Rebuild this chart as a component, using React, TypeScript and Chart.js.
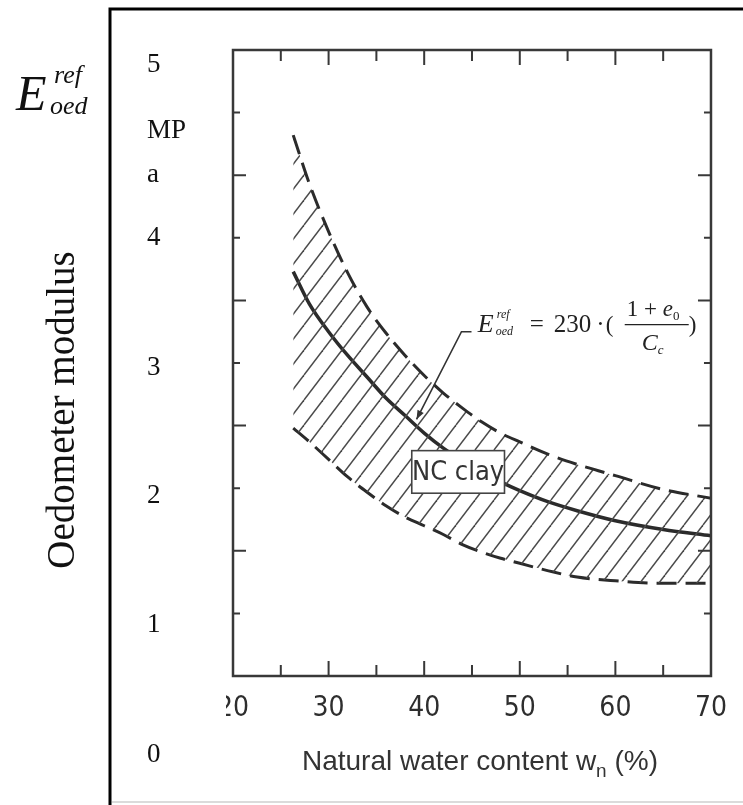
import React, { useEffect, useRef } from 'react';
import { Chart, registerables } from 'chart.js';

Chart.register(...registerables);

// ---- data ----
const waterContent = [26.3, 28, 30, 32, 34, 36, 38, 40, 42, 44, 46, 48, 50, 53, 56, 60, 65, 70];
const upperBound = [4.32, 3.93, 3.55, 3.22, 2.95, 2.74, 2.56, 2.40, 2.26, 2.14, 2.03, 1.94, 1.87, 1.77, 1.69, 1.60, 1.49, 1.42];
const meanCurve = [3.23, 2.97, 2.75, 2.56, 2.39, 2.22, 2.08, 1.94, 1.82, 1.72, 1.63, 1.55, 1.48, 1.39, 1.32, 1.24, 1.17, 1.12];
const lowerBound = [1.98, 1.87, 1.73, 1.59, 1.47, 1.36, 1.27, 1.20, 1.13, 1.05, 0.99, 0.94, 0.90, 0.84, 0.79, 0.76, 0.74, 0.74];

const xTickLabels = [20, 30, 40, 50, 60, 70];
const xMinorTicks = [25, 35, 45, 55, 65];
const yMajorTicks = [1, 2, 3, 4];
const yMinorTicks = [0.5, 1.5, 2.5, 3.5, 4.5];

const overlayLabels = ['5', 'MP', 'a', '4', '3', '2', '1', '0'];
const yAxisTitle = 'Oedometer modulus';
const xAxisTitle = ['Natural water content w', 'n', ' (%)'];
const regionLabel = 'NC clay';

// annotation anchors in data units
const ncBox = { x0: 38.7, x1: 48.4, y0: 1.80, y1: 1.46 };
const leader = { tipX: 39.2, tipY: 2.05, elbowX: 43.9, elbowY: 2.75, endX: 44.95, endY: 2.75 };
const formulaAnchor = { x: 45.6, y: 2.75 };

// ---- layout ----
const W = 743;
const H = 805;
const PLOT = { left: 233, right: 712, top: 50, bottom: 676 };
const overlayBaselines = [72, 138, 182, 245, 375, 503, 632, 762];
const SERIF = '"Liberation Serif", "Times New Roman", serif';
const SANS = '"Liberation Sans", Arial, sans-serif';
const NARROW = '"Liberation Sans Narrow", "DejaVu Sans Condensed", "Liberation Sans", Arial, sans-serif';
const INK = '#2b2b2b';

function makeHatch(): CanvasPattern | string {
  const tw = 19, th = 25;
  const pc = document.createElement('canvas');
  pc.width = tw;
  pc.height = th;
  const p = pc.getContext('2d');
  if (!p) return '#999';
  p.strokeStyle = '#4a4a4a';
  p.lineWidth = 1.5;
  for (const k of [-1, 0, 1]) {
    p.beginPath();
    p.moveTo(k * tw, th);
    p.lineTo(k * tw + tw, 0);
    p.stroke();
  }
  const c = document.createElement('canvas').getContext('2d');
  return (c && c.createPattern(pc, 'repeat')) || '#999';
}

function text(ctx: CanvasRenderingContext2D, s: string, x: number, y: number, font: string) {
  ctx.font = font;
  ctx.fillText(s, x, y);
  return x + ctx.measureText(s).width;
}

const decorPlugin = {
  id: 'decor',
  afterDatasetsDraw(chart: any) {
    const { ctx, chartArea: a, scales } = chart;
    const xs = scales.x;
    const ys = scales.y;
    const px = (v: number) => xs.getPixelForValue(v);
    const py = (v: number) => ys.getPixelForValue(v);
    ctx.save();

    // NC clay box
    const bx0 = px(ncBox.x0), bx1 = px(ncBox.x1), by0 = py(ncBox.y0), by1 = py(ncBox.y1);
    ctx.fillStyle = '#ffffff';
    ctx.fillRect(bx0, by0, bx1 - bx0, by1 - by0);
    ctx.strokeStyle = '#444';
    ctx.lineWidth = 1.6;
    ctx.strokeRect(bx0, by0, bx1 - bx0, by1 - by0);
    ctx.fillStyle = '#333';
    ctx.font = '27px ' + NARROW;
    ctx.textAlign = 'center';
    ctx.textBaseline = 'middle';
    ctx.fillText(regionLabel, (bx0 + bx1) / 2, (by0 + by1) / 2 + 1);

    // plot frame
    ctx.strokeStyle = '#383838';
    ctx.lineWidth = 2.5;
    ctx.strokeRect(a.left, a.top, a.right - a.left, a.bottom - a.top);

    // inner ticks
    ctx.lineWidth = 2;
    ctx.beginPath();
    for (const v of xTickLabels) {
      if (v <= xs.min || v >= xs.max) continue;
      const p = px(v);
      ctx.moveTo(p, a.bottom); ctx.lineTo(p, a.bottom - 15);
      ctx.moveTo(p, a.top); ctx.lineTo(p, a.top + 15);
    }
    for (const v of xMinorTicks) {
      const p = px(v);
      ctx.moveTo(p, a.bottom); ctx.lineTo(p, a.bottom - 11);
      ctx.moveTo(p, a.top); ctx.lineTo(p, a.top + 11);
    }
    for (const v of yMajorTicks) {
      const p = py(v);
      ctx.moveTo(a.left, p); ctx.lineTo(a.left + 13, p);
      ctx.moveTo(a.right, p); ctx.lineTo(a.right - 13, p);
    }
    for (const v of yMinorTicks) {
      const p = py(v);
      ctx.moveTo(a.left, p); ctx.lineTo(a.left + 7, p);
      ctx.moveTo(a.right, p); ctx.lineTo(a.right - 7, p);
    }
    ctx.stroke();

    // leader line with arrow
    const tx = px(leader.tipX), ty = py(leader.tipY);
    const ex = px(leader.elbowX), ey = py(leader.elbowY);
    const nx = px(leader.endX), ny = py(leader.endY);
    ctx.strokeStyle = '#333';
    ctx.lineWidth = 1.6;
    ctx.beginPath();
    ctx.moveTo(nx, ny);
    ctx.lineTo(ex, ey);
    ctx.lineTo(tx, ty);
    ctx.stroke();
    const ang = Math.atan2(ty - ey, tx - ex);
    ctx.fillStyle = '#333';
    ctx.beginPath();
    ctx.moveTo(tx, ty);
    ctx.lineTo(tx - 9 * Math.cos(ang) + 3.5 * Math.sin(ang), ty - 9 * Math.sin(ang) - 3.5 * Math.cos(ang));
    ctx.lineTo(tx - 9 * Math.cos(ang) - 3.5 * Math.sin(ang), ty - 9 * Math.sin(ang) + 3.5 * Math.cos(ang));
    ctx.closePath();
    ctx.fill();

    // formula
    const ax = px(formulaAnchor.x), ay = py(formulaAnchor.y);
    ctx.fillStyle = '#222';
    ctx.textAlign = 'left';
    ctx.textBaseline = 'alphabetic';
    text(ctx, 'E', ax, ay, 'italic 26px ' + SERIF);
    text(ctx, 'ref', ax + 19, ay - 14, 'italic 12px ' + SERIF);
    text(ctx, 'oed', ax + 18, ay + 3, 'italic 12px ' + SERIF);
    text(ctx, '=', ax + 52, ay, '25px ' + SERIF);
    let cx = text(ctx, '230', ax + 76, ay, '25px ' + SERIF);
    text(ctx, '\u00b7', cx + 5, ay, '25px ' + SERIF);
    text(ctx, '(', ax + 128, ay, '23px ' + SERIF);
    let nxp = text(ctx, '1 + ', ax + 149, ay - 16, '23px ' + SERIF);
    nxp = text(ctx, 'e', nxp, ay - 16, 'italic 23px ' + SERIF);
    text(ctx, '0', nxp, ay - 12, '13px ' + SERIF);
    ctx.strokeStyle = '#222';
    ctx.lineWidth = 1.2;
    ctx.beginPath();
    ctx.moveTo(ax + 147, ay - 7);
    ctx.lineTo(ax + 211, ay - 7);
    ctx.stroke();
    const cxp = text(ctx, 'C', ax + 164, ay + 18, 'italic 24px ' + SERIF);
    text(ctx, 'c', cxp, ay + 22, 'italic 13px ' + SERIF);
    text(ctx, ')', ax + 211, ay, '23px ' + SERIF);

    ctx.restore();
  },
  afterDraw(chart: any) {
    const { ctx, chartArea: a, scales } = chart;
    const xs = scales.x;
    ctx.save();
    // white mask over the original y labels of the scan (clips the "2" of 20)
    ctx.fillStyle = '#ffffff';
    ctx.fillRect(112, 11, a.left - 7 - 112, H - 14);

    // x axis title
    ctx.fillStyle = '#333';
    ctx.textBaseline = 'alphabetic';
    ctx.textAlign = 'left';
    const f = '28px ' + SANS;
    ctx.font = f;
    const w1 = ctx.measureText(xAxisTitle[0]).width;
    const w3 = ctx.measureText(xAxisTitle[2]).width;
    ctx.font = '19px ' + SANS;
    const w2 = ctx.measureText(xAxisTitle[1]).width;
    const total = w1 + w2 + w3;
    const centre = (xs.left + xs.right) / 2 + 8;
    let tx = centre - total / 2;
    const base = 770;
    tx = text(ctx, xAxisTitle[0], tx, base, f);
    tx = text(ctx, xAxisTitle[1], tx, base + 7, '19px ' + SANS);
    text(ctx, xAxisTitle[2], tx, base, f);

    // overlay labels (serif)
    ctx.fillStyle = '#111';
    overlayLabels.forEach((s, i) => {
      text(ctx, s, 147, overlayBaselines[i], '27px ' + SERIF);
    });

    // outer frame
    ctx.strokeStyle = '#000';
    ctx.lineWidth = 3;
    ctx.beginPath();
    ctx.moveTo(110, H);
    ctx.lineTo(110, 9);
    ctx.lineTo(W, 9);
    ctx.stroke();
    ctx.strokeStyle = '#cfcfcf';
    ctx.lineWidth = 1.5;
    ctx.beginPath();
    ctx.moveTo(112, 802);
    ctx.lineTo(W, 802);
    ctx.stroke();

    // y axis title, vertical
    ctx.fillStyle = '#111';
    ctx.save();
    ctx.translate(64, 410);
    ctx.rotate(-Math.PI / 2);
    ctx.textAlign = 'center';
    ctx.textBaseline = 'middle';
    ctx.font = '39px ' + SERIF;
    ctx.fillText(yAxisTitle, 0, 0);
    ctx.restore();

    // E_oed^ref symbol
    ctx.textAlign = 'left';
    ctx.textBaseline = 'alphabetic';
    text(ctx, 'E', 16, 110, 'italic 50px ' + SERIF);
    text(ctx, 'ref', 54, 83, 'italic 26px ' + SERIF);
    text(ctx, 'oed', 50, 114, 'italic 26px ' + SERIF);
    ctx.restore();
  },
};

export default function App() {
  const ref = useRef<HTMLCanvasElement>(null);
  useEffect(() => {
    const canvas = ref.current;
    if (!canvas) return;
    const hatch = makeHatch();
    const pts = (vals: number[]) => waterContent.map((x, i) => ({ x, y: vals[i] }));
    const chart = new Chart(canvas, {
      type: 'line',
      data: {
        datasets: [
          {
            label: 'upper',
            data: pts(upperBound),
            borderColor: INK,
            borderWidth: 3,
            borderDash: [20, 9],
            pointRadius: 0,
            cubicInterpolationMode: 'monotone',
            fill: '+1',
            backgroundColor: hatch as any,
          },
          {
            label: 'lower',
            data: pts(lowerBound),
            borderColor: INK,
            borderWidth: 3,
            borderDash: [20, 9],
            pointRadius: 0,
            cubicInterpolationMode: 'monotone',
            fill: false,
          },
          {
            label: 'mean',
            data: pts(meanCurve),
            borderColor: INK,
            borderWidth: 3.5,
            pointRadius: 0,
            cubicInterpolationMode: 'monotone',
            fill: false,
          },
        ],
      },
      options: {
        animation: false,
        responsive: false,
        maintainAspectRatio: false,
        layout: { padding: { left: PLOT.left, right: W - PLOT.right, top: PLOT.top, bottom: 0 } },
        plugins: { legend: { display: false }, tooltip: { enabled: false } },
        scales: {
          x: {
            type: 'linear',
            min: 20,
            max: 70,
            afterBuildTicks: (s: any) => {
              s.ticks = xTickLabels.map((v) => ({ value: v }));
            },
            afterFit: (s: any) => {
              s.height = H - PLOT.bottom;
            },
            ticks: { font: { family: NARROW, size: 28 }, color: '#2e2e2e', padding: 16, maxRotation: 0 },
            grid: { display: false, drawTicks: false },
            border: { display: false },
          },
          y: { type: 'linear', min: 0, max: 5, display: false },
        },
      },
      plugins: [decorPlugin],
    });
    return () => chart.destroy();
  }, []);
  return (
    <div style={{ position: 'absolute', left: 0, top: 0, width: W, height: H, background: '#fff', overflow: 'hidden' }}>
      <canvas ref={ref} width={W} height={H} style={{ display: 'block', width: W, height: H }} />
    </div>
  );
}
